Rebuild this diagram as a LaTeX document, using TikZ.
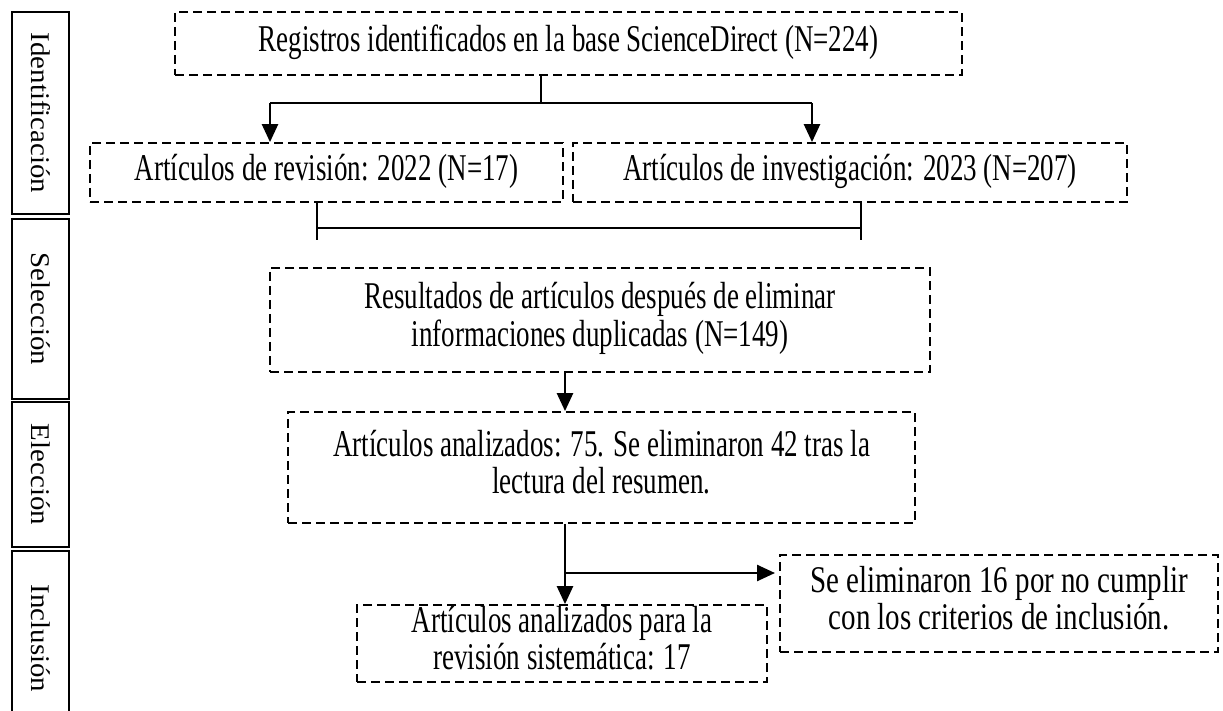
\documentclass[tikz,border=0pt]{standalone}
\usepackage{fontspec}
\setmainfont{Liberation Serif}
\usetikzlibrary{arrows.meta}
\newcommand\vs[1]{\scalebox{1}[1.4]{\begin{tabular}{@{}c@{}}#1\end{tabular}}}
\newcommand\vt[1]{\scalebox{1}[1.3]{\begin{tabular}{@{}c@{}}#1\end{tabular}}}
\newcommand\vlab[1]{\scalebox{1.07}[1]{#1}}
\begin{document}
\begin{tikzpicture}[x=1pt,y=-1pt,
  dbox/.style={draw, dash pattern=on 9pt off 5pt, line width=1.8pt, inner sep=0pt, align=center, font=\fontsize{27}{26.5}\selectfont},
  lab/.style={draw, line width=2pt, rotate=-90, inner sep=0pt, font=\fontsize{27}{27}\selectfont},
  conn/.style={line width=1.5pt},
  arr/.style={line width=2.5pt, -{Triangle[length=18pt,width=16pt]}},
  ]
\useasboundingbox (0,0) rectangle (1223,711);
% side labels
\node[lab, minimum width=202pt, minimum height=57pt] (lid) at (40.5,113) {\vlab{Identificación}};
\node[lab, minimum width=180pt, minimum height=57pt] (lsel) at (40.5,309) {\vlab{Selección}};
\node[lab, minimum width=145pt, minimum height=57pt] (lele) at (40.5,474.5) {\vlab{Elección}};
\node[lab, minimum width=175pt, minimum height=57pt] (linc) at (40.5,638.5) {\vlab{Inclusión}};
% boxes
\node[dbox, minimum width=787pt, minimum height=63pt] (top) at (568.5,43.5) {\vs{Registros identificados en la base ScienceDirect (N=224)}};
\node[dbox, minimum width=473pt, minimum height=59pt] (L) at (326.5,172.5) {\vs{Artículos de revisión: 2022 (N=17)}};
\node[dbox, minimum width=554pt, minimum height=59pt] (R) at (850,172.5) {\vs{Artículos de investigación: 2023 (N=207)}};
\node[dbox, minimum width=660pt, minimum height=104pt] (res) at (600,320) {\vs{Resultados de artículos después de eliminar\\informaciones duplicadas (N=149)}};
\node[dbox, minimum width=627pt, minimum height=111pt] (ana) at (601.5,467.5) {\vs{Artículos analizados: 75. Se eliminaron 42 tras la\\lectura del resumen.}};
\node[dbox, minimum width=438pt, minimum height=97pt, font=\fontsize{29}{28.5}\selectfont] (eli) at (999,603.5) {\vt{Se eliminaron 16 por no cumplir\\con los criterios de inclusión.}};
\node[dbox, minimum width=410pt, minimum height=77pt] (fin) at (562,643.5) {\vs{Artículos analizados para la\\revisión sistemática: 17}};
% connectors
\coordinate (j1) at (541,103);
\coordinate (jl) at (270,103);
\coordinate (jr) at (812,103);
\draw[conn] (j1 |- top.south) -- (j1);
\draw[conn] (jl) -- (jr);
\draw[arr] (jl) -- (jl |- L.north);
\draw[arr] (jr) -- (jr |- R.north);
\coordinate (bl) at (317,240);
\coordinate (br) at (861,240);
\coordinate (bm1) at (317,228);
\coordinate (bm2) at (861,228);
\draw[conn] (bl |- L.south) -- (bl);
\draw[conn] (br |- R.south) -- (br);
\draw[conn] (bm1) -- (bm2);
\coordinate (ax) at (565,0);
\draw[arr] (ax |- res.south) -- (ax |- ana.north);
\draw[arr] (ax |- ana.south) -- (ax |- fin.north);
\coordinate (bj) at (565,573);
\coordinate (be) at (775,573);
\draw[arr] (bj) -- (be);
\end{tikzpicture}
\end{document}
